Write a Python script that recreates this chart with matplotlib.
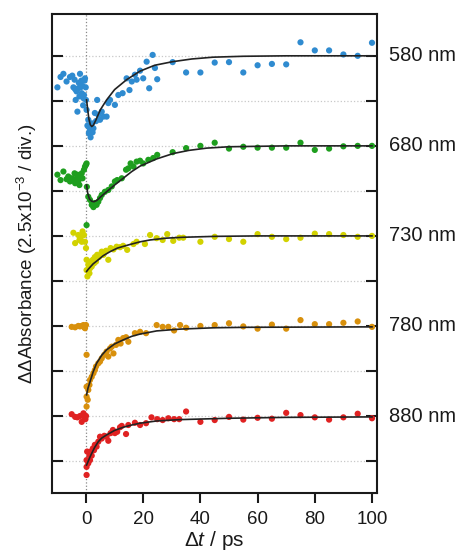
import matplotlib
matplotlib.use("Agg")
import matplotlib.pyplot as plt
import matplotlib.transforms as mtransforms

plt.rcParams['font.family'] = ['Liberation Sans', 'DejaVu Sans']
plt.rcParams['mathtext.fontset'] = 'custom'
plt.rcParams['mathtext.rm'] = 'Liberation Sans'
plt.rcParams['mathtext.it'] = 'Liberation Sans:italic'

# y values are in divisions (1 div = 2.5e-3), each trace offset by 2 div
labels = ['580 nm', '680 nm', '730 nm', '780 nm', '880 nm']
offsets = [9, 7, 5, 3, 1]
colors = ['#2f8bd0', '#1e9e1e', '#d2d200', '#d8900c', '#e02222']

late_t = [35, 40, 45, 50, 55, 60, 65, 70, 75, 80, 85, 90, 95, 100]

t_580 = [-10.0, -8.9, -7.9, -6.8, -5.6, -4.8, -4.4, -4.0, -3.8, -3.6, -3.3, -3.0, -2.7,
         -2.5, -2.3, -2.1, -1.9, -1.6, -1.5, -1.2, -1.0, -0.9, -0.7, -0.5, -0.35, -0.1, 0.0,
         0.2, 0.5, 0.8, 1.0, 1.2, 1.4, 1.6, 1.8, 2.0, 2.3, 2.6, 3.1, 3.5, 3.9, 4.3, 4.9,
         5.5, 6.1, 7.2, 7.8, 8.4, 10.1, 11.3, 12.8, 14.2, 15.2, 16.0, 17.1, 17.7, 18.9,
         20.0, 21.2, 22.1, 23.3, 24.1, 24.9, 30.3] + late_t
y_580 = [8.30, 8.53, 8.60, 8.43, 8.53, 8.56, 8.30, 8.47, 8.26, 8.02, 8.21, 7.76, 8.28,
         8.40, 8.10, 8.60, 8.30, 8.45, 8.17, 8.33, 7.90, 8.06, 8.13, 8.45, 8.50, 8.30, 8.02,
         7.80, 7.45, 7.58, 7.28, 7.32, 7.39, 7.19, 7.42, 7.50, 7.30, 7.39, 7.73, 7.55, 8.02,
         7.69, 7.58, 7.76, 7.65, 7.65, 7.95, 8.02, 7.91, 8.13, 8.17, 8.50, 8.24, 8.43, 8.58,
         8.47, 8.67, 8.50, 8.87, 8.28, 9.02, 8.73, 8.48, 8.86,
         8.63, 8.63, 8.85, 8.86, 8.63, 8.79, 8.82, 8.81, 9.30, 9.12, 9.12, 9.03, 9.00, 9.29]

t_680 = [-10.0, -8.9, -7.9, -6.8, -6.2, -5.6, -5.0, -4.4, -4.0, -3.8, -3.5, -3.3, -3.0,
         -2.7, -2.3, -2.1, -1.5, -1.2, -0.7, -0.35, 0.0, 0.2,
         0.2, 0.3, 0.8, 1.4, 2.0, 2.6, 3.1, 3.7, 4.3, 4.9, 5.5, 6.6, 7.8, 9.0, 10.1, 10.9,
         12.5, 14.0, 14.8, 15.6, 16.6, 17.7, 18.9, 20.0, 21.8, 23.5, 24.9, 30.3] + late_t
y_680 = [6.36, 6.24, 6.43, 6.26, 6.32, 6.21, 6.28, 6.24, 6.39, 6.17, 6.24, 6.28, 6.36,
         6.21, 6.13, 6.32, 6.39, 6.28, 6.47, 6.54, 6.58, 6.61,
         5.24, 6.09, 5.87, 5.80, 5.69, 5.64, 5.73, 5.69, 5.76, 5.84, 5.91, 5.98, 6.02, 6.10,
         6.21, 6.24, 6.28, 6.47, 6.50, 6.61, 6.54, 6.65, 6.67, 6.61, 6.69, 6.73, 6.80, 6.86,
         6.95, 7.00, 7.07, 6.94, 6.98, 6.96, 6.96, 6.96, 7.07, 6.91, 6.94, 6.99, 7.00, 7.00]

t_730 = [-4.4, -3.8, -2.7, -2.3, -1.9, -1.5, -1.2, -0.7, -0.35, 0.0,
         0.2, 0.2, 0.5, 0.8, 1.2, 1.4, 1.6, 2.0, 2.4, 2.8, 3.1, 3.5, 3.9, 4.5, 5.5, 6.1,
         7.0, 7.8, 8.6, 9.6, 10.7, 11.9, 13.0, 14.4, 16.6, 17.7, 20.6, 22.4, 24.7, 26.8,
         28.4, 30.5, 32.6, 34.0] + late_t[1:]
y_730 = [5.07, 4.84, 5.02, 4.91, 4.95, 4.87, 5.10, 5.02, 4.87, 4.73,
         4.47, 4.24, 4.10, 4.36, 4.17, 4.28, 4.43, 4.32, 4.47, 4.39, 4.53, 4.43, 4.58,
         4.53, 4.65, 4.58, 4.67, 4.47, 4.73, 4.70, 4.76, 4.75, 4.78, 4.69, 4.82, 4.87,
         4.82, 5.02, 4.95, 4.91, 5.04, 4.89, 4.96, 4.96,
         4.87, 4.98, 4.93, 4.87, 5.04, 4.98, 4.93, 4.96, 5.05, 5.04, 5.02, 4.98, 5.00]

t_780 = [-5.0, -3.8, -2.7, -2.1, -1.5, -0.9, -0.6, -0.35, 0.0,
         0.2, 0.2, 0.2, 0.2, 0.6, 0.8, 1.2, 1.4, 2.0, 2.6, 3.1, 3.5, 4.3, 4.9, 5.5, 6.4,
         7.2, 7.8, 8.4, 9.0, 9.6, 10.5, 11.3, 12.1, 13.0, 14.0, 14.8, 17.1, 18.9, 21.0,
         24.7, 26.8, 28.8, 30.8, 32.9] + late_t
y_780 = [2.98, 2.97, 3.00, 2.99, 3.00, 3.02, 2.97, 2.95, 3.02,
         2.36, 1.65, 1.43, 1.21, 1.36, 1.58, 1.69, 1.80, 1.87, 1.95, 2.02, 2.10, 2.17,
         2.21, 2.28, 2.36, 2.43, 2.32, 2.50, 2.54, 2.39, 2.58, 2.69, 2.61, 2.73, 2.75,
         2.65, 2.84, 2.87, 2.84, 3.02, 2.98, 2.98, 2.90, 3.02,
         2.96, 3.00, 3.02, 3.06, 2.99, 2.94, 3.03, 2.94, 3.13, 3.04, 3.04, 3.07, 3.10, 2.98]

t_880 = [-5.0, -3.8, -3.0, -2.1, -1.5, -0.9, -0.6, -0.2, 0.0,
         0.2, 0.2, 0.2, 0.4, 0.8, 1.2, 1.4, 1.6, 2.0, 2.4, 2.8, 3.1, 3.7, 4.3, 4.9, 5.5,
         6.4, 7.2, 7.8, 8.6, 9.4, 10.1, 10.9, 11.9, 12.5, 14.0, 14.8, 17.1, 18.9, 21.0,
         22.9, 24.9, 26.8, 28.8, 30.8, 32.6] + late_t
y_880 = [1.04, 0.98, 0.97, 1.00, 0.87, 1.06, 0.97, 0.93, 1.00,
         -0.31, -0.13, 0.02, 0.21, -0.05, 0.13, 0.02, 0.21, 0.12, 0.28, 0.24, 0.36, 0.32,
         0.43, 0.54, 0.50, 0.56, 0.54, 0.45, 0.62, 0.69, 0.62, 0.65, 0.75, 0.78, 0.60,
         0.80, 0.85, 0.80, 0.84, 0.97, 0.93, 0.91, 0.95, 0.93, 0.93,
         1.10, 0.87, 0.91, 0.98, 0.92, 0.96, 0.94, 1.07, 1.02, 0.97, 0.92, 0.97, 1.05, 0.95]

# fitted curves
fit_t_580 = [0.2, 0.6, 1.0, 1.5, 2.0, 2.6, 3.5, 5, 7.2, 10, 14.2, 18.9, 24, 30.3, 37, 44.5, 55, 70, 100]
fit_y_580 = [8.02, 7.80, 7.60, 7.47, 7.43, 7.46, 7.58, 7.80, 8.02, 8.25, 8.47, 8.66, 8.79, 8.87, 8.93, 8.97, 8.99, 9.0, 9.0]
fit_t_680 = [0.2, 0.6, 1.2, 2.0, 2.8, 3.8, 5.0, 7.2, 10, 13, 16, 18.9, 24.7, 30.5, 36, 42.2, 50, 70, 100]
fit_y_680 = [6.13, 5.95, 5.82, 5.77, 5.76, 5.79, 5.86, 5.98, 6.13, 6.28, 6.43, 6.55, 6.71, 6.83, 6.90, 6.95, 6.98, 7.0, 7.0]
fit_t_730 = [0.2, 0.8, 1.5, 2.5, 4.3, 6, 8.4, 11, 15.4, 19, 22.4, 28, 34, 45, 60, 100]
fit_y_730 = [4.21, 4.26, 4.31, 4.38, 4.47, 4.56, 4.65, 4.73, 4.81, 4.87, 4.91, 4.95, 4.97, 4.99, 5.0, 5.0]
fit_t_780 = [0.2, 0.7, 1.4, 2.5, 3.7, 5.5, 7.2, 10, 13, 16, 18.9, 24.7, 32.9, 45, 56, 100]
fit_y_780 = [1.47, 1.62, 1.76, 1.98, 2.17, 2.35, 2.47, 2.60, 2.69, 2.77, 2.82, 2.89, 2.93, 2.96, 2.97, 2.98]
fit_t_880 = [0.2, 0.8, 1.4, 2.0, 3.0, 4.3, 5.5, 7.2, 10, 13, 16, 18.9, 24.7, 33, 50, 70, 100]
fit_y_880 = [-0.09, 0.0, 0.09, 0.17, 0.30, 0.43, 0.51, 0.58, 0.68, 0.75, 0.80, 0.84, 0.89, 0.92, 0.95, 0.97, 0.98]

data_t = [t_580, t_680, t_730, t_780, t_880]
data_y = [y_580, y_680, y_730, y_780, y_880]
fit_t = [fit_t_580, fit_t_680, fit_t_730, fit_t_780, fit_t_880]
fit_y = [fit_y_580, fit_y_680, fit_y_730, fit_y_780, fit_y_880]

fig = plt.figure(figsize=(4.64, 5.58), dpi=100)
ax = fig.add_axes([0.112, 0.1165, 0.7005, 0.8585])

# grid and time-zero marker
for k in range(10):
    ax.axhline(k, color='#c8c8c8', linestyle=':', linewidth=0.9, zorder=0)
ax.axvline(0, color='#888888', linestyle=':', linewidth=0.9, zorder=0)

for i in range(5):
    ax.scatter(data_t[i], data_y[i], s=20, color=colors[i], edgecolors='none', zorder=2)
    ax.plot(fit_t[i], fit_y[i], color='#222222', linewidth=1.2, zorder=3)

trans = mtransforms.blended_transform_factory(ax.transAxes, ax.transData)
for lab, off in zip(labels, offsets):
    ax.text(1.038, off, lab, transform=trans, ha='left', va='center', fontsize=14.5, color='#1a1a1a')

ax.set_xlim(-11.9, 101.75)
ax.set_ylim(-0.71, 9.93)
ax.set_xticks([0, 20, 40, 60, 80, 100])
ax.set_yticks(range(10))
ax.set_yticklabels([])
ax.tick_params(axis='x', direction='out', length=7, width=1.5, labelsize=13.5, pad=6, colors='#1a1a1a')
ax.tick_params(axis='y', direction='in', length=8, width=1.5, left=True, right=True, colors='#1a1a1a')
for sp in ax.spines.values():
    sp.set_linewidth(1.5)
    sp.set_color('#1a1a1a')

ax.set_xlabel(r'$\Delta\mathit{t}$ / ps', fontsize=15, labelpad=1, color='#1a1a1a')
ax.set_ylabel(r'$\Delta\Delta$Absorbance (2.5x10$^{-3}$ / div.)', fontsize=13.5, labelpad=6, color='#1a1a1a')

fig.savefig('out.png', dpi=100)
